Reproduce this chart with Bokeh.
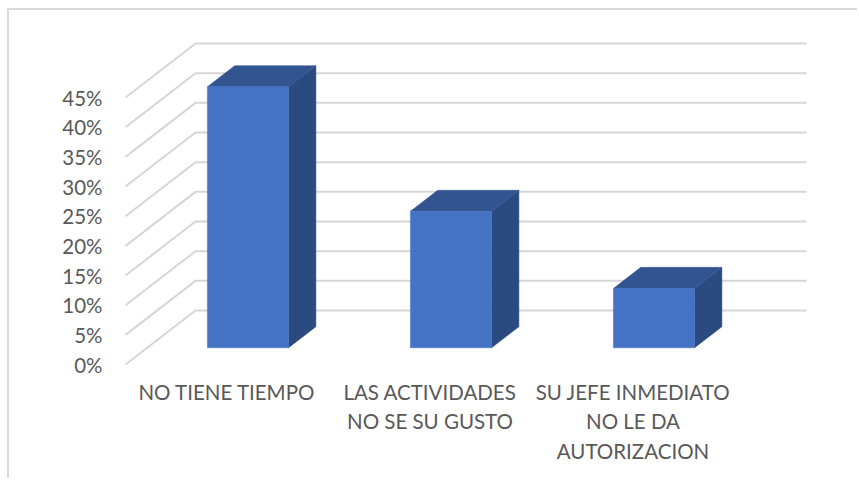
from bokeh.plotting import figure
from bokeh.models import Range1d, FixedTicker
from bokeh.embed import file_html
from bokeh.resources import INLINE

categories = ["NO TIENE TIEMPO", "LAS ACTIVIDADES\nNO SE SU GUSTO", "SU JEFE INMEDIATO\nNO LE DA\nAUTORIZACION"]
values = [44, 23, 10]
y_ticks = [0, 5, 10, 15, 20, 25, 30, 35, 40, 45]

FONT = "Lato"
TEXT = "#595959"
GRID = "#d6d6d6"
FRONT, TOP, SIDE = "#4472c4", "#325592", "#2a4a80"

PX_X = 203.0   # pixels per category
PX_Y = 5.933   # pixels per percent
DEPTH_X = 70 / PX_X
DEPTH_Y = 54 / PX_Y
BAR_W = 0.4
D0, D1 = 0.30, 0.69
WALL_EXTRA = 0.01

W, H = 850, 470
LEFT, BOTTOM = 114, 114
x_range = Range1d(-2 / PX_X, (W - LEFT - 2) / PX_X)
y_range = Range1d(-2 / PX_Y, (H - BOTTOM - 2) / PX_Y)

p = figure(width=W, height=H, x_range=x_range, y_range=y_range,
           output_backend="svg", toolbar_location=None,
           min_border_left=LEFT, min_border_right=0, min_border_top=0, min_border_bottom=BOTTOM,
           styles={"margin-left": "7px", "margin-top": "8px",
                   "border-left": "2px solid #d9d9d9", "border-top": "2px solid #d9d9d9"})
p.outline_line_color = None
p.grid.visible = False

# Gridlines: the wall's lines and the slanted side-wall lines
n = len(categories)
xs = [[0, DEPTH_X, n + DEPTH_X + WALL_EXTRA] for _ in y_ticks]
ys = [[t, t + DEPTH_Y, t + DEPTH_Y] for t in y_ticks]
p.multi_line(xs, ys, line_color=GRID, line_width=2)

# Bars
def face(i, v, kind):
    l = i + 0.5 - BAR_W / 2
    r = i + 0.5 + BAR_W / 2
    fx, fy = D0 * DEPTH_X, 0.31 * DEPTH_Y
    bx, by = D1 * DEPTH_X, 0.70 * DEPTH_Y
    if kind == "front":
        return [l + fx, r + fx, r + fx, l + fx], [fy, fy, v + fy, v + fy]
    if kind == "top":
        return [l + fx, r + fx, r + bx, l + bx], [v + fy, v + fy, v + by, v + by]
    return [r + fx, r + bx, r + bx, r + fx], [fy, by, v + by, v + fy]

for kind, col in (("side", SIDE), ("top", TOP), ("front", FRONT)):
    faces = [face(i, v, kind) for i, v in enumerate(values)]
    p.patches([f[0] for f in faces], [f[1] for f in faces],
              fill_color=col, line_color=col, line_width=0.5)

# Axes
xa = p.xaxis[0]
xa.ticker = FixedTicker(ticks=[i + 0.5 for i in range(n)])
xa.major_label_overrides = {i + 0.5: c for i, c in enumerate(categories)}
xa.axis_line_color = None
xa.major_tick_line_color = None
xa.minor_tick_line_color = None
xa.major_label_text_font = FONT
xa.major_label_text_font_size = "20.5px"
xa.major_label_text_color = TEXT
xa.major_label_text_line_height = 1.24
xa.major_label_standoff = 7

ya = p.yaxis[0]
ya.ticker = FixedTicker(ticks=y_ticks)
ya.major_label_overrides = {t: f"{t}%" for t in y_ticks}
ya.axis_line_color = None
ya.major_tick_line_color = None
ya.minor_tick_line_color = None
ya.major_label_text_font = FONT
ya.major_label_text_font_size = "20.5px"
ya.major_label_text_color = TEXT
ya.major_label_standoff = 15

open("out.html", "w").write(file_html(p, INLINE))
